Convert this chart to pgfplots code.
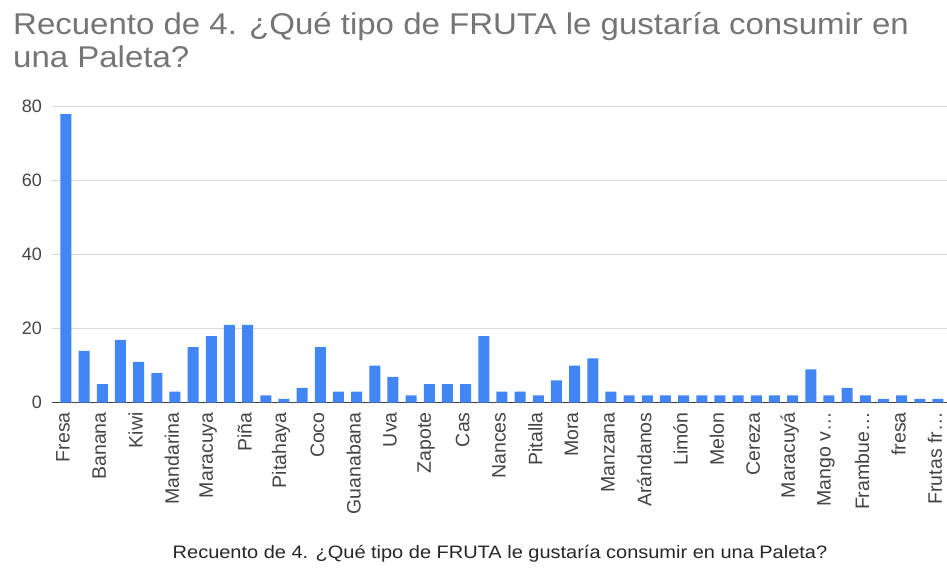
\documentclass[border=0pt]{standalone}
\usepackage{fontspec}
\setmainfont{Liberation Sans}
\usepackage{pgfplots}
\pgfplotsset{compat=1.18}
\definecolor{barblue}{HTML}{4285F4}
\definecolor{titlegray}{HTML}{757575}
\definecolor{ticklab}{HTML}{444444}
\definecolor{gridc}{HTML}{D9D9D9}
\begin{document}
\begin{tikzpicture}
\path[use as bounding box] (-52pt,-166.3pt) rectangle (895pt,402.7pt);
\begin{axis}[
  at={(0,0)}, anchor=south west,
  scale only axis,
  width=895pt, height=296pt,
  xmin=-0.77, xmax=48.5,
  ymin=0, ymax=80,
  ytick={0,20,40,60,80},
  xtick={0,2,...,48},
  xticklabels={Fresa,Banana,Kiwi,Mandarina,Maracuya,Piña,Pitahaya,Coco,Guanabana,Uva,Zapote,Cas,Nances,Pitalla,Mora,Manzana,Arándanos,Limón,Melon,Cereza,Maracuyá,Mango v…,Frambue…,fresa,Frutas fr…},
  axis x line*=bottom,
  axis y line*=left,
  x axis line style={draw=black!75, line width=1.2pt, -},
  y axis line style={draw=none},
  ymajorgrids,
  grid style={gridc, line width=0.9pt},
  major tick length=0pt,
  /pgf/number format/assume math mode=true,
  xticklabel style={font=\fontsize{19.5}{21}\selectfont, text=ticklab, yshift=-9.5pt, xshift=-3pt, rotate=90, anchor=east, inner sep=0pt},
  yticklabel style={font=\fontsize{18}{20}\selectfont, text=ticklab, anchor=east, inner sep=0pt, xshift=-10pt},
  clip=false,
]
\addplot[ybar, bar width=11pt, fill=barblue, draw=none] coordinates {
(0,78) (1,14) (2,5) (3,17) (4,11) (5,8) (6,3) (7,15) (8,18) (9,21)
(10,21) (11,2) (12,1) (13,4) (14,15) (15,3) (16,3) (17,10) (18,7) (19,2)
(20,5) (21,5) (22,5) (23,18) (24,3) (25,3) (26,2) (27,6) (28,10) (29,12)
(30,3) (31,2) (32,2) (33,2) (34,2) (35,2) (36,2) (37,2) (38,2) (39,2)
(40,2) (41,9) (42,2) (43,4) (44,2) (45,1) (46,2) (47,1) (48,1)
};
\end{axis}
\node[anchor=base west, inner sep=0pt, text=titlegray, font=\fontsize{30}{32}\selectfont] at (-39pt,367.7pt) {\scalebox{1.1}[1]{Recuento de 4. ¿Qué tipo de FRUTA le gustaría consumir en}};
\node[anchor=base west, inner sep=0pt, text=titlegray, font=\fontsize{30}{32}\selectfont] at (-39pt,334.7pt) {\scalebox{1.1}[1]{una Paleta?}};
\node[anchor=base, inner sep=0pt, text=black!85, font=\fontsize{18}{20}\selectfont] at (448pt,-156.3pt) {\scalebox{1.11}[1]{Recuento de 4. ¿Qué tipo de FRUTA le gustaría consumir en una Paleta?}};
\end{tikzpicture}
\end{document}
